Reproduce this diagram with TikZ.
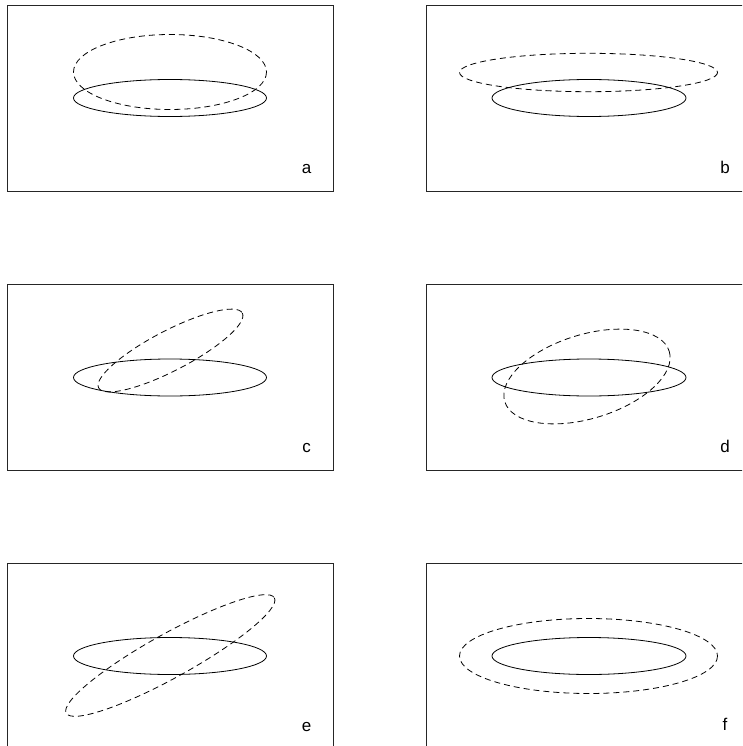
\documentclass[tikz,border=0pt]{standalone}
\usepackage{fontspec}
\setsansfont{Liberation Sans}
\usetikzlibrary{positioning}
\tikzset{
  frame/.style={draw=black!85, line width=0.8pt},
  orbit/.style={draw=black, line width=0.8pt},
  dashorbit/.style={orbit, dash pattern=on 6pt off 4pt},
  tag/.style={font=\sffamily\fontsize{17}{20}\selectfont, anchor=base, inner sep=0pt},
}
\begin{document}
\begin{tikzpicture}[x=1pt,y=-1pt]
  \useasboundingbox (0,0) rectangle (742,746);
  \clip (0,0) rectangle (742,746);

  % panel a
  \draw[frame] (7,5) rectangle (333,191);
  \draw[orbit] (170,98) ellipse [x radius=96.5, y radius=18.5];
  \draw[dashorbit] (170,72) ellipse [x radius=96.5, y radius=37.5];
  \node[tag] (taga) at (306.5,173.5) {a};

  % panel b
  \draw[frame] (426,5) rectangle (752,191);
  \draw[orbit] (589,98) ellipse [x radius=97, y radius=18.5];
  \draw[dashorbit] (588.5,72.5) ellipse [x radius=129, y radius=19.2];
  \node[tag] (tagb) at (725,173.5) {b};

  % panel c
  \draw[frame] (7,284) rectangle (333,470);
  \draw[orbit] (170,377.5) ellipse [x radius=96.5, y radius=18.5];
  \draw[dashorbit, rotate around={27.5:(170.5,350.5)}] (170.5,350.5) ellipse [x radius=81, y radius=20];
  \node[tag] (tagc) at (306.5,452.5) {c};

  % panel d
  \draw[frame] (426,284) rectangle (752,470);
  \draw[orbit] (589,377.5) ellipse [x radius=97, y radius=18.5];
  \draw[dashorbit, rotate around={17:(587,376.5)}] (587,376.5) ellipse [x radius=86, y radius=42];
  \node[tag] (tagd) at (725,452.5) {d};

  % panel e
  \draw[frame] (7,563) rectangle (333,749);
  \draw[orbit] (170,656) ellipse [x radius=96.5, y radius=18.5];
  \draw[dashorbit, rotate around={29:(170.3,655.5)}] (170.3,655.5) ellipse [x radius=119, y radius=22];
  \node[tag] (tage) at (306.5,731.5) {e};

  % panel f
  \draw[frame] (426,563) rectangle (752,749);
  \draw[orbit] (589,656) ellipse [x radius=97, y radius=18.5];
  \draw[dashorbit] (588.5,656) ellipse [x radius=129, y radius=37.5];
  \node[tag] (tagf) at (725,730.5) {f};
\end{tikzpicture}
\end{document}
